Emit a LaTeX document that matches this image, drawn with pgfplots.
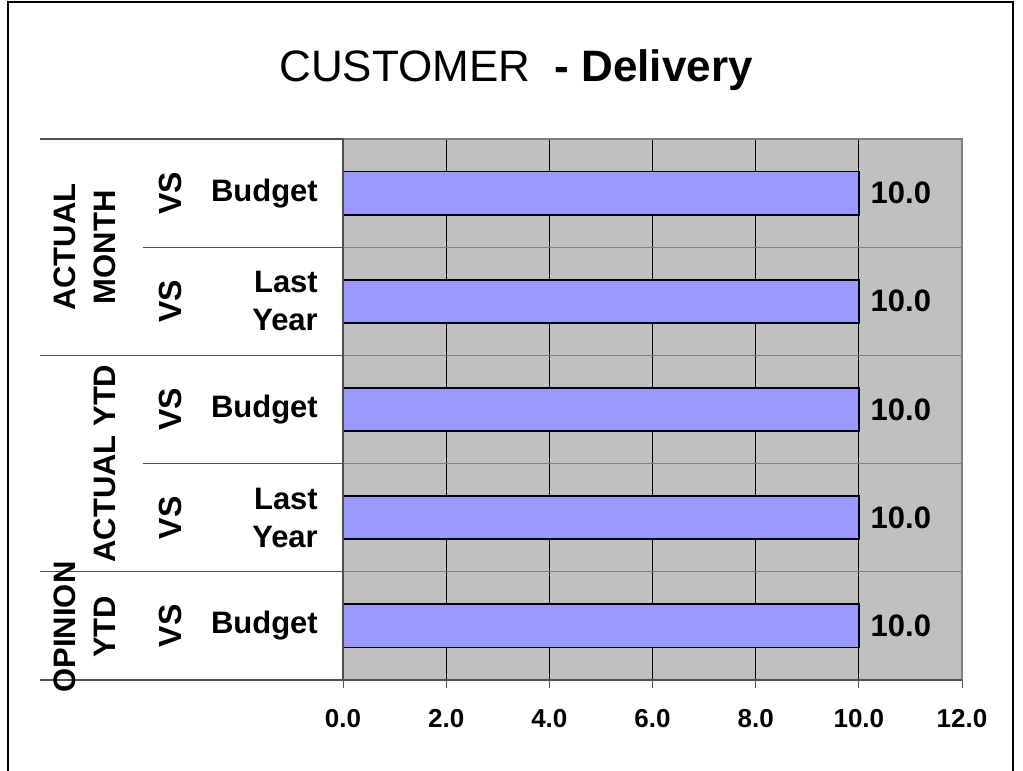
\documentclass[border=0pt]{standalone}
\usepackage{fontspec}
\setmainfont{Liberation Sans}
\usepackage{pgfplots}
\pgfplotsset{compat=1.18}
\definecolor{barblue}{HTML}{9999FF}
\definecolor{plotgray}{HTML}{C0C0C0}
\definecolor{bordergray}{HTML}{808080}
\definecolor{sepgray}{HTML}{505050}
\newcommand{\lbl}{\fontsize{31bp}{38bp}\selectfont\bfseries}
\newcommand{\vs}{\fontsize{32bp}{38bp}\selectfont\bfseries}
\newcommand{\grp}{\fontsize{31bp}{40bp}\selectfont\bfseries}
\begin{document}
\begin{tikzpicture}[x=1bp,y=1bp]
\useasboundingbox (0,0) rectangle (1023,771);
\draw[line width=1.5bp] (8,0) -- (8,769) -- (1013,769) -- (1013,0);
\node[anchor=base, inner sep=0, font=\fontsize{44bp}{52bp}\selectfont] at (516,689) {CUSTOMER\ \ \textbf{- Delivery}};
\begin{axis}[
  at={(343bp,91bp)}, anchor=south west,
  scale only axis, width=619bp, height=541bp,
  xbar, bar width=0.4,
  xmin=0, xmax=12, ymin=0.5, ymax=5.5, y dir=reverse,
  xtick={0,2,...,12},
  ytick={1.5,2.5,3.5,4.5},
  yticklabels={},
  xmajorgrids, ymajorgrids,
  x grid style={black, line width=0.9bp},
  y grid style={bordergray, line width=0.9bp},
  axis background/.style={fill=plotgray},
  axis line style={bordergray, line width=2bp},
  tick align=outside, xtick pos=bottom, ytick style={draw=none},
  major tick length=8bp,
  x tick style={sepgray, line width=1bp},
  xticklabel={\pgfmathprintnumber[fixed,fixed zerofill,precision=1,assume math mode=true]{\tick}},
  x tick label style={font=\fontsize{26bp}{30bp}\selectfont\bfseries, yshift=-18bp},
  clip=false,
  point meta=x,
  nodes near coords={\pgfmathprintnumber[fixed,fixed zerofill,precision=1,assume math mode=true]{\pgfplotspointmeta}},
  nodes near coords style={font=\lbl, anchor=west, inner sep=0, xshift=11bp},
]
\addplot[fill=barblue, draw=black, line width=1.8bp] coordinates {(10,1) (10,2) (10,3) (10,4) (10,5)};
% row separators
\draw[sepgray, line width=1.2bp] ([xshift=-303bp]axis cs:0,0.5) -- (axis cs:0,0.5);
\draw[sepgray, line width=1.2bp] ([xshift=-200bp]axis cs:0,1.5) -- (axis cs:0,1.5);
\draw[sepgray, line width=1.2bp] ([xshift=-303bp]axis cs:0,2.5) -- (axis cs:0,2.5);
\draw[sepgray, line width=1.2bp] ([xshift=-200bp]axis cs:0,3.5) -- (axis cs:0,3.5);
\draw[sepgray, line width=1.2bp] ([xshift=-303bp]axis cs:0,4.5) -- (axis cs:0,4.5);
\draw[sepgray, line width=1.2bp] ([xshift=-303bp]axis cs:0,5.5) -- (axis cs:0,5.5);
\draw[sepgray, line width=2bp] (axis cs:0,0.5) -- (axis cs:0,5.5) -- (axis cs:12,5.5);
% category labels
\node[anchor=east, inner sep=0, font=\lbl] at ([xshift=-25bp]axis cs:0,1) {Budget};
\node[anchor=east, inner sep=0, font=\lbl, align=right] at ([xshift=-25bp]axis cs:0,2) {Last\\Year};
\node[anchor=east, inner sep=0, font=\lbl] at ([xshift=-25bp]axis cs:0,3) {Budget};
\node[anchor=east, inner sep=0, font=\lbl, align=right] at ([xshift=-25bp]axis cs:0,4) {Last\\Year};
\node[anchor=east, inner sep=0, font=\lbl] at ([xshift=-25bp]axis cs:0,5) {Budget};
% VS
\node[rotate=90, inner sep=0, font=\vs] at ([xshift=-173bp]axis cs:0,1) {VS};
\node[rotate=90, inner sep=0, font=\vs] at ([xshift=-173bp]axis cs:0,2) {VS};
\node[rotate=90, inner sep=0, font=\vs] at ([xshift=-173bp]axis cs:0,3) {VS};
\node[rotate=90, inner sep=0, font=\vs] at ([xshift=-173bp]axis cs:0,4) {VS};
\node[rotate=90, inner sep=0, font=\vs] at ([xshift=-173bp]axis cs:0,5) {VS};
% group labels
\node[rotate=90, inner sep=0, font=\grp, align=center] at ([xshift=-258bp]axis cs:0,1.5) {ACTUAL\\MONTH};
\node[rotate=90, inner sep=0, font=\grp] at ([xshift=-238bp]axis cs:0,3.5) {ACTUAL YTD};
\node[rotate=90, inner sep=0, font=\grp, align=center] at ([xshift=-258bp]axis cs:0,5.01) {OPINION\\YTD};
\end{axis}
\end{tikzpicture}
\end{document}
